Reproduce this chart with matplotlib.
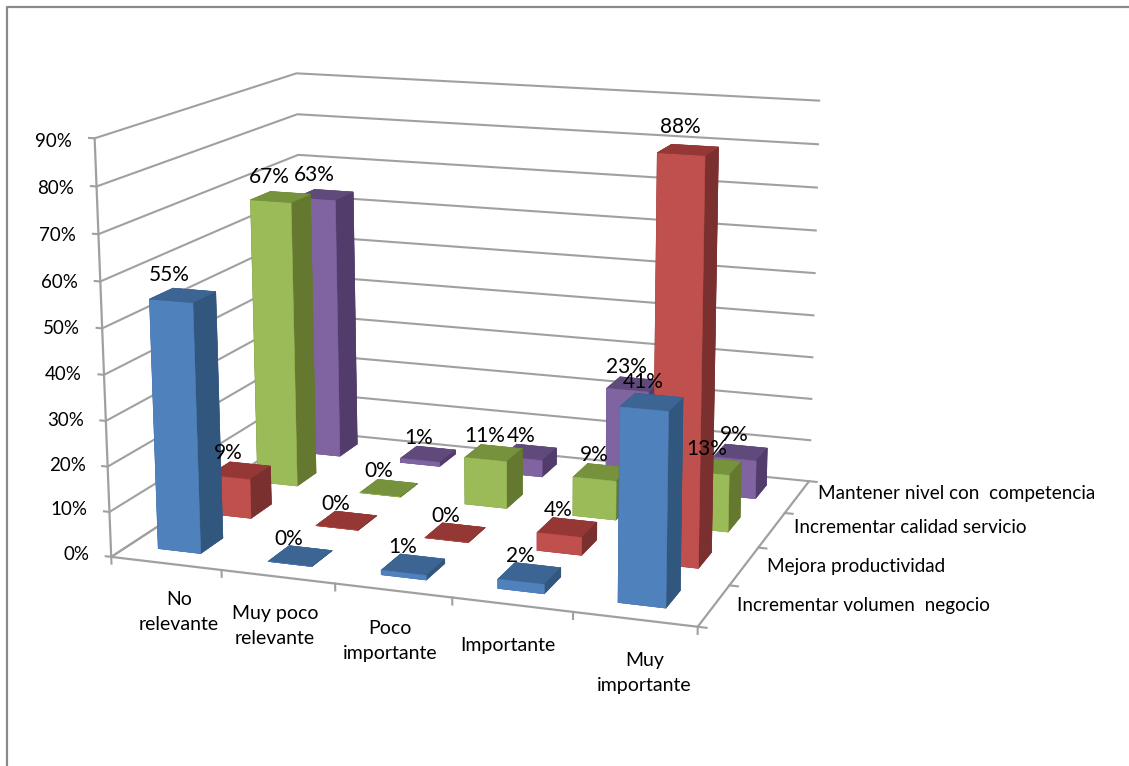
import numpy as np
import matplotlib
matplotlib.use('Agg')
import matplotlib.pyplot as plt
from matplotlib.lines import Line2D
from mpl_toolkits.mplot3d import proj3d

plt.rcParams['font.family'] = ['Lato', 'DejaVu Sans']

categories = ['No\nrelevante', 'Muy poco\nrelevante', 'Poco\nimportante', 'Importante', 'Muy\nimportante']
series_names = ['Incrementar volumen  negocio', 'Mejora productividad',
                'Incrementar calidad servicio', 'Mantener nivel con  competencia']
volumen = [55, 0, 1, 2, 41]
productividad = [9, 0, 0, 4, 88]
calidad = [67, 0, 11, 9, 13]
competencia = [63, 1, 4, 23, 9]
values = [volumen, productividad, calidad, competencia]
zticks = [0, 10, 20, 30, 40, 50, 60, 70, 80, 90]

# front, top, side
blue = ['#4f81bd', '#3c6594', '#32577f']
red = ['#c0504d', '#953735', '#7a302e']
green = ['#9bbb59', '#76923c', '#64782f']
purple = ['#8064a2', '#604a7b', '#513c6c']
colors = [blue, red, green, purple]

W, H = 1129, 766
# box and bar corners (cat, series, pct) and where they sit in the picture, for the camera
box_pts = [(0, 0, 0), (1, 0, 0), (2, 0, 0), (5, 0, 0), (5, 4, 0), (0, 4, 0),
           (0, 0, 90), (0, 0, 90), (0, 0, 50), (0, 4, 90), (5, 4, 90), (0, 4, 80), (5, 4, 80), (5, 4, 10),
           (4.295, 1.32, 88), (4.295, 1.32, 0), (4.295, 0.32, 41), (4.295, 0.32, 0),
           (0.295, 0.32, 55), (0.295, 0.32, 0)]
box_px = [(111, 554), (218, 566), (332, 581), (693, 628), (803, 478), (306, 440),
          (95, 140), (95, 140), (103, 327), (297, 71), (820, 100), (297, 112), (818, 143), (806, 438),
          (660, 157), (682, 567), (621, 408), (616, 605),
          (151, 300), (160, 547)]


def fit_camera(pts, px):
    A = []
    b = []
    for (x, y, z), (u, v) in zip(pts, px):
        A.append([x, y, z, 1, 0, 0, 0, 0, -u*x, -u*y, -u*z])
        b.append(u)
        A.append([0, 0, 0, 0, x, y, z, 1, -v*x, -v*y, -v*z])
        b.append(v)
    h = np.linalg.lstsq(np.array(A, float), np.array(b, float), rcond=None)[0]
    return np.array([h[:4], h[4:8], [0, 0, 0, -1], [h[8], h[9], h[10], 1]])


fig = plt.figure(figsize=(W/100, H/100), dpi=100)
# square axes bigger than the figure, 3d axes always want a square
ax = fig.add_axes([0, (H-W)/2/H, 1, W/H], projection='3d', computed_zorder=False)
ax.set_axis_off()
ax.set_proj_type('ortho')  # stops Line3D clipping, the matrix below is what counts

# use picture pixels as the 2d coordinates of the axes
M = fit_camera(box_pts, box_px)
ax.get_proj = lambda: M
ax.viewLim.intervalx = (0, W)
ax.viewLim.intervaly = (H+(W-H)/2, -(W-H)/2)


def label(x, y, z, s, **kw):
    u, v, _ = proj3d.proj_transform(x, y, z, M)
    ax.text2D(u, v, s, transform=ax.transData, color='black', **kw)


grid = '#a0a0a0'
for z in zticks:
    ax.plot([0, 0, 5], [0, 4, 4], [z, z, z], color=grid, lw=1.5, zorder=1)
    ax.plot([-0.05, 0], [0, 0], [z, z], color=grid, lw=1.5, zorder=1)
    label(-0.2, 0, z*0.99, '%d%%' % z, ha='right', va='center', fontsize=13.5, zorder=50)
ax.plot([0, 0], [0, 0], [0, 90], color=grid, lw=1.6, zorder=1)
ax.plot([0, 5, 5], [0, 0, 4], [0, 0, 0], color=grid, lw=1.6, zorder=1)
ax.plot([0, 0], [0, 4], [0, 0], color=grid, lw=1.5, zorder=1)
for i in range(6):
    ax.plot([i, i], [0, 0], [0, -1.5], color=grid, lw=1.5, zorder=1)
for j in range(5):
    ax.plot([5, 5.07], [j, j], [0, 0], color=grid, lw=1.5, zorder=1)

bw, bd = 0.39, 0.43
x0, y0 = 0.27, 0.32
for j in range(3, -1, -1):
    front, top, side = colors[j]
    faces = [top, top, front, side, side, side]
    for i in range(5):
        v = values[j][i]
        ax.bar3d(i+x0, j+y0, 0, bw, bd, v, color=faces, shade=False,
                 linewidth=0.4, edgecolor=faces, zorder=10+(3-j)*2)
        label(i+x0+bw*0.48, j+y0, v+5.6, '%d%%' % v, ha='center', va='center',
              fontsize=15, zorder=60)

cat_x = [0.61, 0.47, 0.47, 0.46, 0.58]
cat_z = [-5.8, -6.2, -6.5, -7.0, -6.6]
for i, c in enumerate(categories):
    label(i+cat_x[i], 0, cat_z[i], c, ha='center', va='top', fontsize=14,
          linespacing=1.6, zorder=50)
series_x = [5.17, 5.18, 5.17, 5.155]
series_y = [0.55, 0.55, 0.62, 0.65]
for j, s in enumerate(series_names):
    label(series_x[j], j+series_y[j], 0, s, ha='left', va='center', fontsize=13.6, zorder=50)

# chart border, only left and top are in the picture
fig.add_artist(Line2D([7/W, 7/W, 1], [0, 1-7/H, 1-7/H], color='#8a8a8a', lw=1.6))

fig.savefig('out.png', dpi=100)
